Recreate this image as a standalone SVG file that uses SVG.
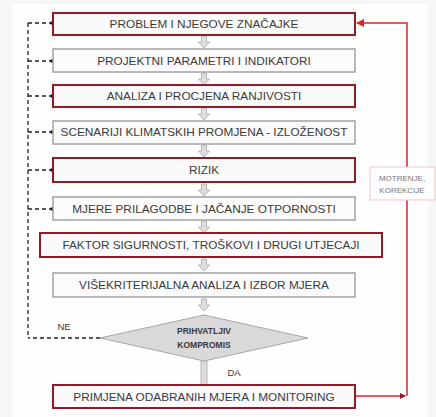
<svg xmlns="http://www.w3.org/2000/svg" width="436" height="417" viewBox="0 0 436 417">
<defs>
<style>
.t{font-family:"Liberation Sans",Arial,sans-serif;font-size:11.8px;fill:#3a3a3a;text-anchor:middle;dominant-baseline:central}
.red{fill:#fbfafa;stroke:#8e1b26;stroke-width:2}
.gry{fill:#fbfbfb;stroke:#a3a3a3;stroke-width:1.5}
.dash{fill:none;stroke:#222;stroke-width:1.3;stroke-dasharray:4 3}
.ga{fill:#dedede;stroke:#a8a8a8;stroke-width:0.8}
.fb{fill:none;stroke:#e0222e;stroke-width:1.5}
</style>
<marker id="dot" markerWidth="4" markerHeight="4" refX="2" refY="2" orient="auto" markerUnits="userSpaceOnUse"><circle cx="2" cy="2" r="1.8" fill="#111"/></marker>
<marker id="ra" markerWidth="8" markerHeight="8" refX="7" refY="4" orient="auto" markerUnits="userSpaceOnUse"><path d="M0,0 L8,4 L0,8 z" fill="#e0222e"/></marker>
<marker id="rd" markerWidth="6" markerHeight="6" refX="5" refY="3" orient="auto" markerUnits="userSpaceOnUse"><path d="M0,0 L6,3 L0,6 z" fill="#8e1b26"/></marker>
<path id="garr" d="M-2.5,0 H2.5 V6 H5.5 L0,12 L-5.5,6 H-2.5 Z"/>
</defs>
<rect width="436" height="417" fill="#f6f6f6"/>
<rect x="12" y="4" width="416" height="413" fill="#fefefe"/>

<g id="connectors">
<path class="dash" d="M28,23 V338"/>
<path class="dash" d="M28,23 H52" marker-end="url(#dot)"/>
<path class="dash" d="M28,61 H52" marker-end="url(#dot)"/>
<path class="dash" d="M28,96 H52" marker-end="url(#dot)"/>
<path class="dash" d="M28,132 H52" marker-end="url(#dot)"/>
<path class="dash" d="M28,170 H52" marker-end="url(#dot)"/>
<path class="dash" d="M28,209 H52" marker-end="url(#dot)"/>
<path class="dash" d="M100,338 H28"/>
<use href="#garr" x="204" y="36" class="ga"/>
<use href="#garr" x="204" y="73" class="ga"/>
<use href="#garr" x="204" y="108" class="ga"/>
<use href="#garr" x="204" y="145" class="ga"/>
<use href="#garr" x="204" y="184" class="ga"/>
<use href="#garr" x="204" y="221" class="ga"/>
<use href="#garr" x="204" y="259" class="ga"/>
<use href="#garr" x="204" y="299" class="ga"/>
<rect x="201" y="361" width="6" height="24" class="ga"/>
<path class="fb" d="M356,396 H405" marker-end="url(#rd)"/>
<path class="fb" d="M407,396 V23 H357" marker-end="url(#ra)"/>
</g>

<g id="n1"><rect x="53" y="13" width="302" height="22" class="red"/><text class="t" x="204" y="24">PROBLEM I NJEGOVE ZNAČAJKE</text></g>
<g id="n2"><rect x="53" y="49" width="302" height="23" class="gry"/><text class="t" x="204" y="61">PROJEKTNI PARAMETRI I INDIKATORI</text></g>
<g id="n3"><rect x="53" y="85" width="302" height="22" class="red"/><text class="t" x="204" y="96">ANALIZA I PROCJENA RANJIVOSTI</text></g>
<g id="n4"><rect x="53" y="121" width="302" height="23" class="gry"/><text class="t" x="204" y="132">SCENARIJI KLIMATSKIH PROMJENA - IZLOŽENOST</text></g>
<g id="n5"><rect x="53" y="158" width="302" height="24" class="red"/><text class="t" x="204" y="170">RIZIK</text></g>
<g id="n6"><rect x="53" y="197" width="302" height="23" class="gry"/><text class="t" x="204" y="209">MJERE PRILAGODBE I JAČANJE OTPORNOSTI</text></g>
<g id="n7"><rect x="40" y="233" width="342" height="24" class="red"/><text class="t" x="211" y="245">FAKTOR SIGURNOSTI, TROŠKOVI I DRUGI UTJECAJI</text></g>
<g id="n8"><rect x="53" y="273" width="302" height="24" class="gry"/><text class="t" x="204" y="285">VIŠEKRITERIJALNA ANALIZA I IZBOR MJERA</text></g>
<g id="n9"><path d="M100,338 L204,315 L308,338 L204,361 Z" fill="#d9d9d9" stroke="#a8a8a8" stroke-width="1"/><text class="t" x="204" y="331" style="font-size:8.5px;font-weight:bold">PRIHVATLJIV</text><text class="t" x="204" y="345" style="font-size:8.5px;font-weight:bold">KOMPROMIS</text></g>
<g id="n10"><rect x="53" y="385" width="302" height="23" class="red"/><text class="t" x="204" y="397">PRIMJENA ODABRANIH MJERA I MONITORING</text></g>
<g id="n11"><rect x="370" y="167" width="65" height="33" fill="#fefefe" stroke="#f0c4c8" stroke-width="1"/><text class="t" x="402" y="178" style="font-size:8px;fill:#777">MOTRENJE,</text><text class="t" x="402" y="190" style="font-size:8px;fill:#777">KOREKCIJE</text></g>
<text class="t" x="64" y="326" style="font-size:9.5px">NE</text>
<text class="t" x="234" y="372" style="font-size:9.5px">DA</text>
</svg>
